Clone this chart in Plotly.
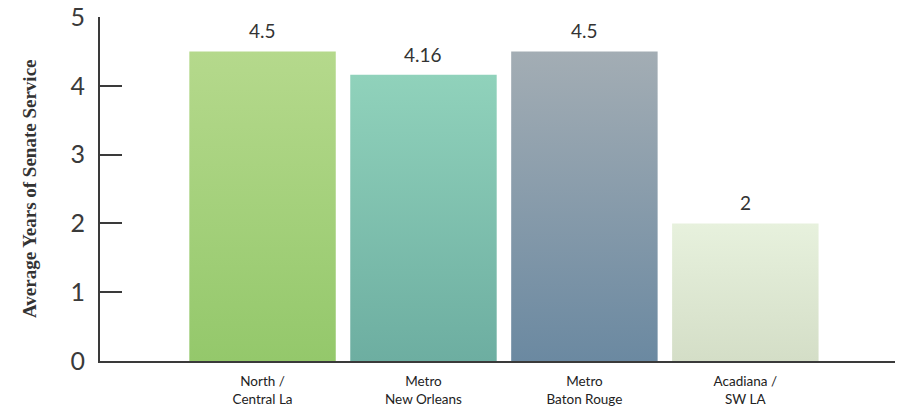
import plotly.graph_objects as go

categories = ["North /<br>Central La", "Metro<br>New Orleans", "Metro<br>Baton Rouge", "Acadiana /<br>SW LA"]
values = [4.5, 4.16, 4.5, 2]
value_labels = ["4.5", "4.16", "4.5", "2"]
top_colors = ["#b5d98c", "#90d2bb", "#a3adb4", "#e7f1dd"]
bottom_colors = ["#94c86b", "#6daea1", "#6b89a1", "#d4dec7"]
mid_colors = ["#a5d17c", "#7fc0ae", "#879bab", "#dde8d2"]
y_ticks = [0, 1, 2, 3, 4, 5]

fig = go.Figure()
fig.add_trace(go.Bar(
    x=list(range(len(categories))),
    y=values,
    marker=dict(color=mid_colors, line=dict(width=0)),
    cliponaxis=False,
    width=0.91,
))
for i, (v, lab) in enumerate(zip(values, value_labels)):
    fig.add_annotation(
        x=i, y=v, text=lab, showarrow=False,
        xanchor="center", yanchor="bottom", yshift=7,
        font=dict(family="Lato, sans-serif", size=19, color="#333333"),
    )

fig.update_layout(
    width=897, height=413,
    margin=dict(l=100, r=2, t=17, b=52),
    paper_bgcolor="white", plot_bgcolor="white",
    showlegend=False,
    font=dict(family="Lato, sans-serif", color="#333333"),
)
fig.update_xaxes(
    range=[-1.01, 3.93],
    tickmode="array",
    tickvals=list(range(len(categories))),
    ticktext=categories,
    tickfont=dict(family="Lato, sans-serif", size=13.5, color="#222222"),
    showline=True, linecolor="#3a3a3a", linewidth=2,
    ticks="", showgrid=False, zeroline=False,
    ticklabelstandoff=7,
)
fig.update_yaxes(
    range=[0, 5],
    tickmode="array",
    tickvals=y_ticks,
    ticktext=[str(t) for t in y_ticks],
    tickfont=dict(family="Lato, sans-serif", size=25, color="#3a3a3a"),
    showline=True, linecolor="#3a3a3a", linewidth=2,
    ticks="inside", ticklen=22, tickwidth=2, tickcolor="#3a3a3a",
    showgrid=False, zeroline=False,
    ticklabelstandoff=8,
)
fig.add_annotation(
    text="<b>Average Years of Senate Service</b>",
    xref="paper", yref="paper",
    x=(29 - 100) / 795, y=0.5,
    xanchor="center", yanchor="middle",
    textangle=-90, showarrow=False,
    font=dict(family="Liberation Serif, DejaVu Serif, serif", size=19, color="#333333"),
)

stops_js = "[" + ",".join("['%s','%s']" % (t, b) for t, b in zip(top_colors, bottom_colors)) + "]"
post = """
var gd = document.getElementById('{plot_id}');
function applyGrad(){
  var stops = %s;
  var svg = gd.querySelector('svg.main-svg');
  if(!svg) return;
  var ns = 'http://www.w3.org/2000/svg';
  var defs = svg.querySelector('defs');
  if(!defs){ defs = document.createElementNS(ns,'defs'); svg.insertBefore(defs, svg.firstChild); }
  stops.forEach(function(s,i){
    if(document.getElementById('bargrad'+i)) return;
    var g = document.createElementNS(ns,'linearGradient');
    g.setAttribute('id','bargrad'+i);
    g.setAttribute('x1','0'); g.setAttribute('y1','0');
    g.setAttribute('x2','0'); g.setAttribute('y2','1');
    var a = document.createElementNS(ns,'stop'); a.setAttribute('offset','0'); a.setAttribute('stop-color',s[0]);
    var b = document.createElementNS(ns,'stop'); b.setAttribute('offset','1'); b.setAttribute('stop-color',s[1]);
    g.appendChild(a); g.appendChild(b); defs.appendChild(g);
  });
  var paths = gd.querySelectorAll('.barlayer .point path');
  paths.forEach(function(p,i){ p.style.fill = 'url(#bargrad'+(i %% stops.length)+')'; });
}
applyGrad();
gd.on('plotly_afterplot', applyGrad);
""" % stops_js

fig.write_html("out.html", post_script=post)
